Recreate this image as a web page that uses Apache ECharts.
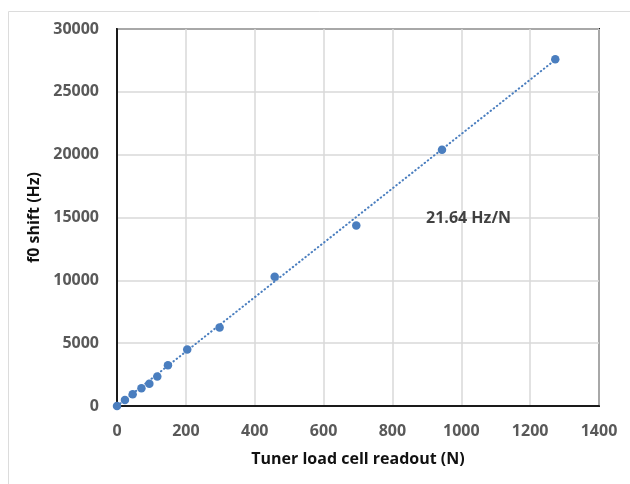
<!DOCTYPE html>
<html>
<head>
<meta charset="utf-8">
<script src="https://cdn.jsdelivr.net/npm/echarts@6/dist/echarts.min.js"></script>
<style>
  html, body { margin: 0; padding: 0; background: #fff; }
  #chart { width: 630px; height: 484px; }
</style>
</head>
<body>
<div id="chart"></div>
<script>
// Tuner load cell readout vs. resonance frequency shift
const forceN = [0, 23, 45.5, 71, 94, 117, 148, 204, 298, 458, 695, 944, 1273];
const shiftHz = [0, 480, 930, 1410, 1780, 2340, 3240, 4490, 6240, 10280, 14360, 20390, 27590];
const slopeHzPerN = 21.64;
const slopeLabel = '21.64 Hz/N';
const slopeLabelAt = [1021, 14900];
const xTicks = { min: 0, max: 1400, interval: 200 };
const yTicks = { min: 0, max: 30000, interval: 5000 };

const blue = '#4a7ebf';
const fontFamily = '"Open Sans", "Liberation Sans", sans-serif';
const plain = v => String(v);

const points = forceN.map((x, i) => [x, shiftHz[i]]);
const xEnd = forceN[forceN.length - 1];
const trend = [[0, 0], [xEnd, slopeHzPerN * xEnd]];

const chart = echarts.init(document.getElementById('chart'));
chart.setOption({
  animation: false,
  backgroundColor: '#fff',
  graphic: [{
    type: 'rect',
    shape: { x: 8.5, y: 11.5, width: 640, height: 500 },
    style: { fill: 'none', stroke: '#dcdcdc', lineWidth: 1 },
    silent: true
  }],
  grid: {
    left: 117, right: 31, top: 29, bottom: 78,
    show: true, borderColor: '#1a1a1a', borderWidth: 2,
    backgroundColor: 'transparent'
  },
  xAxis: {
    type: 'value',
    min: xTicks.min, max: xTicks.max, interval: xTicks.interval,
    name: 'Tuner load cell readout (N)',
    nameLocation: 'middle', nameGap: 45,
    nameTextStyle: { fontFamily, fontSize: 16, fontWeight: 'bold', color: '#111' },
    axisLine: { show: true, lineStyle: { color: '#1a1a1a', width: 2 } },
    axisTick: { show: false },
    axisLabel: { fontFamily, fontSize: 16, fontWeight: 'bold', color: '#595959', margin: 17, formatter: plain },
    splitLine: { show: true, lineStyle: { color: '#d9d9d9', width: 1.5 } }
  },
  yAxis: {
    type: 'value',
    min: yTicks.min, max: yTicks.max, interval: yTicks.interval,
    name: 'f0 shift (Hz)',
    nameLocation: 'middle', nameGap: 66, nameRotate: 90,
    nameTextStyle: { fontFamily, fontSize: 16, fontWeight: 'bold', color: '#111' },
    axisLine: { show: true, lineStyle: { color: '#1a1a1a', width: 2 } },
    axisTick: { show: false },
    axisLabel: { fontFamily, fontSize: 16, fontWeight: 'bold', color: '#595959', margin: 18, formatter: plain },
    splitLine: { show: true, lineStyle: { color: '#d9d9d9', width: 1.5 } }
  },
  series: [
    {
      type: 'line',
      data: trend,
      showSymbol: false,
      symbol: 'none',
      lineStyle: { color: blue, width: 2, type: [0.5, 3.5], cap: 'round' },
      z: 2
    },
    {
      type: 'scatter',
      data: points,
      symbol: 'circle',
      symbolSize: 8.5,
      itemStyle: { color: blue, opacity: 1 },
      z: 3
    },
    {
      type: 'scatter',
      data: [slopeLabelAt],
      symbolSize: 0,
      label: {
        show: true, position: 'inside',
        formatter: slopeLabel,
        fontFamily, fontSize: 16, fontWeight: 'bold', color: '#111'
      },
      z: 4
    }
  ]
});
</script>
</body>
</html>
